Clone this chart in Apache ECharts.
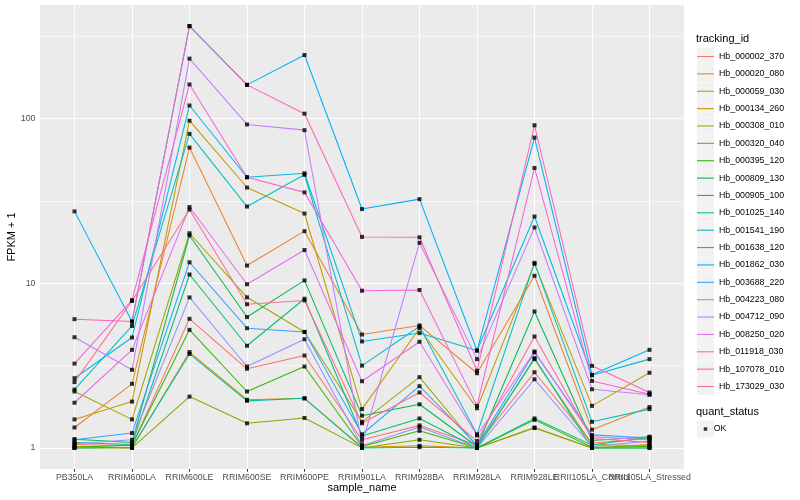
<!DOCTYPE html>
<html>
<head>
<meta charset="utf-8">
<script src="https://cdn.jsdelivr.net/npm/echarts@6/dist/echarts.min.js"></script>
<style>html,body{margin:0;padding:0;background:#fff}#c{width:800px;height:500px}</style>
</head>
<body>
<div id="c"></div>
<script>
const categories = ['PB350LA','RRIM600LA','RRIM600LE','RRIM600SE','RRIM600PE','RRIM901LA','RRIM928BA','RRIM928LA','RRIM928LE','RRII105LA_Control','RRII105LA_Stressed'];
const yTickValues = [1, 10, 100];
const yTickLabels = ['1', '10', '100'];
const minorGridValues = [3.1623, 31.623, 316.23];

const Hb_000002_370 = [1.05, 1.03, 6.08, 3.02, 3.64, 1.12, 1.37, 1.04, 2.88, 1.07, 1.14];
const Hb_000020_080 = [1.33, 2.45, 66.6, 12.8, 20.7, 4.88, 5.54, 2.84, 11.1, 1.29, 1.77];
const Hb_000059_030 = [1.02, 1.00, 3.82, 1.96, 2.00, 1.01, 1.03, 1.00, 1.32, 1.00, 1.05];
const Hb_000134_260 = [1.49, 1.91, 97, 38.1, 26.5, 1.72, 5.33, 1.74, 13.1, 1.80, 2.86];
const Hb_000308_010 = [2.20, 1.49, 20.1, 8.21, 5.06, 1.44, 2.69, 1.02, 3.46, 1.05, 1.03];
const Hb_000320_040 = [1.00, 1.00, 2.05, 1.41, 1.52, 1.00, 1.12, 1.00, 1.33, 1.00, 1.00];
const Hb_000395_120 = [1.01, 1.04, 5.21, 2.20, 3.12, 1.02, 1.27, 1.00, 1.48, 1.01, 1.02];
const Hb_000809_130 = [1.13, 1.08, 19.5, 6.23, 10.4, 1.57, 1.84, 1.02, 6.74, 1.11, 1.17];
const Hb_000905_100 = [1.08, 1.05, 11.3, 4.17, 8.05, 1.18, 1.51, 1.00, 1.51, 1.04, 1.16];
const Hb_001025_140 = [1.00, 1.01, 3.72, 1.93, 2.00, 1.00, 1.01, 1.00, 3.51, 1.00, 1.00];
const Hb_001541_190 = [2.26, 5.5, 80.7, 29.2, 45.5, 3.16, 5.46, 1.21, 13.3, 1.44, 1.72];
const Hb_001638_120 = [2.65, 4.68, 120, 44, 46.5, 4.43, 4.98, 3.90, 25.4, 2.76, 3.46];
const Hb_001862_030 = [27.3, 5.85, 364, 160, 243, 28.2, 32.4, 3.90, 76.6, 2.78, 3.94];
const Hb_003688_220 = [1.12, 1.23, 13.4, 5.33, 5.06, 1.21, 2.37, 1.04, 3.80, 1.20, 1.15];
const Hb_004223_080 = [1.06, 1.12, 8.2, 3.12, 4.57, 1.03, 1.34, 1.00, 2.61, 1.02, 1.10];
const Hb_004712_090 = [4.70, 2.98, 231, 92, 85, 1.05, 17.6, 3.46, 21.8, 2.27, 2.10];
const Hb_008250_020 = [1.88, 3.94, 29.0, 9.85, 15.9, 2.54, 4.41, 1.19, 3.85, 1.17, 1.12];
const Hb_011918_030 = [3.25, 7.9, 161, 44, 35.6, 9.0, 9.1, 1.80, 50.1, 2.55, 2.12];
const Hb_107078_010 = [6.05, 5.85, 364, 160, 107, 19.1, 19.0, 2.94, 91, 3.15, 2.17];
const Hb_173029_030 = [2.51, 7.8, 28.0, 7.45, 7.86, 1.41, 2.17, 1.10, 4.75, 1.14, 1.08];

const trackingIds = ['Hb_000002_370','Hb_000020_080','Hb_000059_030','Hb_000134_260','Hb_000308_010','Hb_000320_040','Hb_000395_120','Hb_000809_130','Hb_000905_100','Hb_001025_140','Hb_001541_190','Hb_001638_120','Hb_001862_030','Hb_003688_220','Hb_004223_080','Hb_004712_090','Hb_008250_020','Hb_011918_030','Hb_107078_010','Hb_173029_030'];
const seriesValues = [Hb_000002_370,Hb_000020_080,Hb_000059_030,Hb_000134_260,Hb_000308_010,Hb_000320_040,Hb_000395_120,Hb_000809_130,Hb_000905_100,Hb_001025_140,Hb_001541_190,Hb_001638_120,Hb_001862_030,Hb_003688_220,Hb_004223_080,Hb_004712_090,Hb_008250_020,Hb_011918_030,Hb_107078_010,Hb_173029_030];
const colors = ['#F8766D','#EA8331','#D89000','#C09B00','#A3A500','#7CAE00','#39B600','#00BB4E','#00BF7D','#00C1A3','#00BFC4','#00BAE0','#00B0F6','#35A2FF','#9590FF','#C77CFF','#E76BF3','#FA62DB','#FF62BC','#FF6C91'];

const FONT = 'Liberation Sans, Arial, Helvetica, sans-serif';
const chart = echarts.init(document.getElementById('c'), null, {renderer: 'canvas'});

const allVals = seriesValues.flat();
const lmin = Math.log10(Math.min.apply(null, allVals));
const lmax = Math.log10(Math.max.apply(null, allVals));
const pad = (lmax - lmin) * 0.05;
const yMin = Math.pow(10, lmin - pad);
const yMax = Math.pow(10, lmax + pad);
const catIdx = categories.map((c, i) => i);

const lineSeries = trackingIds.map((id, k) => ({
  name: id,
  type: 'line',
  data: seriesValues[k].map((v, i) => [i, v]),
  showSymbol: false,
  symbol: 'none',
  lineStyle: {width: 1.05, color: colors[k]},
  itemStyle: {color: colors[k]},
  z: 2,
  silent: true
}));

const points = [];
seriesValues.forEach(arr => arr.forEach((v, i) => points.push([i, v])));

const gridSeries = {
  type: 'line',
  data: [],
  silent: true,
  z: 1,
  markLine: {
    silent: true,
    z: 1,
    symbol: 'none',
    label: {show: false},
    animation: false,
    data: [
      ...yTickValues.map(v => ({yAxis: v, lineStyle: {color: '#fff', width: 1.07, type: 'solid'}})),
      ...minorGridValues.map(v => ({yAxis: v, lineStyle: {color: '#fff', width: 0.55, type: 'solid'}})),
      ...catIdx.map(i => ({xAxis: i, lineStyle: {color: '#fff', width: 1.07, type: 'solid'}}))
    ]
  }
};

const legTop = 48, legStep = 17.37, legLeft = 697;
const keyBoxes = trackingIds.map((id, i) => ({
  type: 'rect', shape: {x: legLeft, y: legTop + i * legStep, width: 17, height: 17},
  style: {fill: '#F2F2F2'}, z: 0
}));
keyBoxes.push({type: 'rect', shape: {x: legLeft, y: 420.5, width: 17, height: 17}, style: {fill: '#F2F2F2'}, z: 0});

const xLabelStyle = {fontSize: 8.8, color: '#4D4D4D', margin: 4.5, hideOverlap: false, fontFamily: FONT, formatter: v => categories[v]};

chart.setOption({
  animation: false,
  textStyle: {fontFamily: FONT},
  title: [
    {text: 'tracking_id', left: 696, top: 33, padding: 0, textStyle: {fontSize: 11, fontWeight: 'normal', color: '#000', fontFamily: FONT}},
    {text: 'quant_status', left: 696, top: 406, padding: 0, textStyle: {fontSize: 11, fontWeight: 'normal', color: '#000', fontFamily: FONT}}
  ],
  graphic: keyBoxes,
  grid: {left: 40, right: 116, top: 5, bottom: 31, show: true, backgroundColor: '#EBEBEB', borderWidth: 0, outerBoundsMode: 'none', containLabel: false},
  legend: [
    {
      data: trackingIds, orient: 'vertical', left: legLeft, top: legTop, padding: 0,
      itemGap: legStep - 17, itemWidth: 17, itemHeight: 1.1, icon: 'rect', selectedMode: false,
      textStyle: {fontSize: 8.8, color: '#000', lineHeight: 17, fontFamily: FONT}
    },
    {
      data: ['OK'], orient: 'vertical', left: legLeft + 6.75, top: 420.5, padding: 0,
      itemWidth: 3.5, itemHeight: 3.5, icon: 'rect', selectedMode: false,
      textStyle: {fontSize: 8.8, color: '#000', lineHeight: 17, padding: [0, 0, 0, 1.5], fontFamily: FONT}
    }
  ],
  xAxis: [
    {
      type: 'value', min: -0.6, max: 10.6, position: 'bottom',
      splitLine: {show: false},
      axisLine: {show: false},
      axisTick: {show: true, customValues: catIdx, length: 2.7, lineStyle: {color: '#333'}},
      axisLabel: Object.assign({customValues: catIdx.filter(i => i % 2 === 0)}, xLabelStyle),
      name: 'sample_name', nameLocation: 'middle', nameGap: 13, nameMoveOverlap: false,
      nameTextStyle: {fontSize: 11, color: '#000', fontFamily: FONT}
    },
    {
      type: 'value', min: -0.6, max: 10.6, position: 'bottom', offset: 0,
      splitLine: {show: false},
      axisLine: {show: false},
      axisTick: {show: false},
      axisLabel: Object.assign({customValues: catIdx.filter(i => i % 2 === 1)}, xLabelStyle)
    }
  ],
  yAxis: {
    type: 'log', logBase: 10, min: yMin, max: yMax,
    splitLine: {show: false},
    minorSplitLine: {show: false},
    axisLine: {show: false},
    axisTick: {show: true, customValues: yTickValues, length: 2.7, lineStyle: {color: '#333'}},
    axisLabel: {customValues: yTickValues, formatter: v => yTickLabels[yTickValues.indexOf(Math.round(v))] || String(Math.round(v)), fontSize: 8.8, color: '#4D4D4D', margin: 4.5, fontFamily: FONT},
    name: 'FPKM + 1', nameLocation: 'middle', nameGap: 23, nameRotate: 90, nameMoveOverlap: false,
    nameTextStyle: {fontSize: 11, color: '#000', fontFamily: FONT}
  },
  series: [
    gridSeries,
    ...lineSeries,
    {
      name: 'OK', type: 'scatter', data: points, symbol: 'rect', symbolSize: 4,
      itemStyle: {color: '#000'}, z: 3, silent: true
    }
  ]
});
</script>
</body>
</html>
